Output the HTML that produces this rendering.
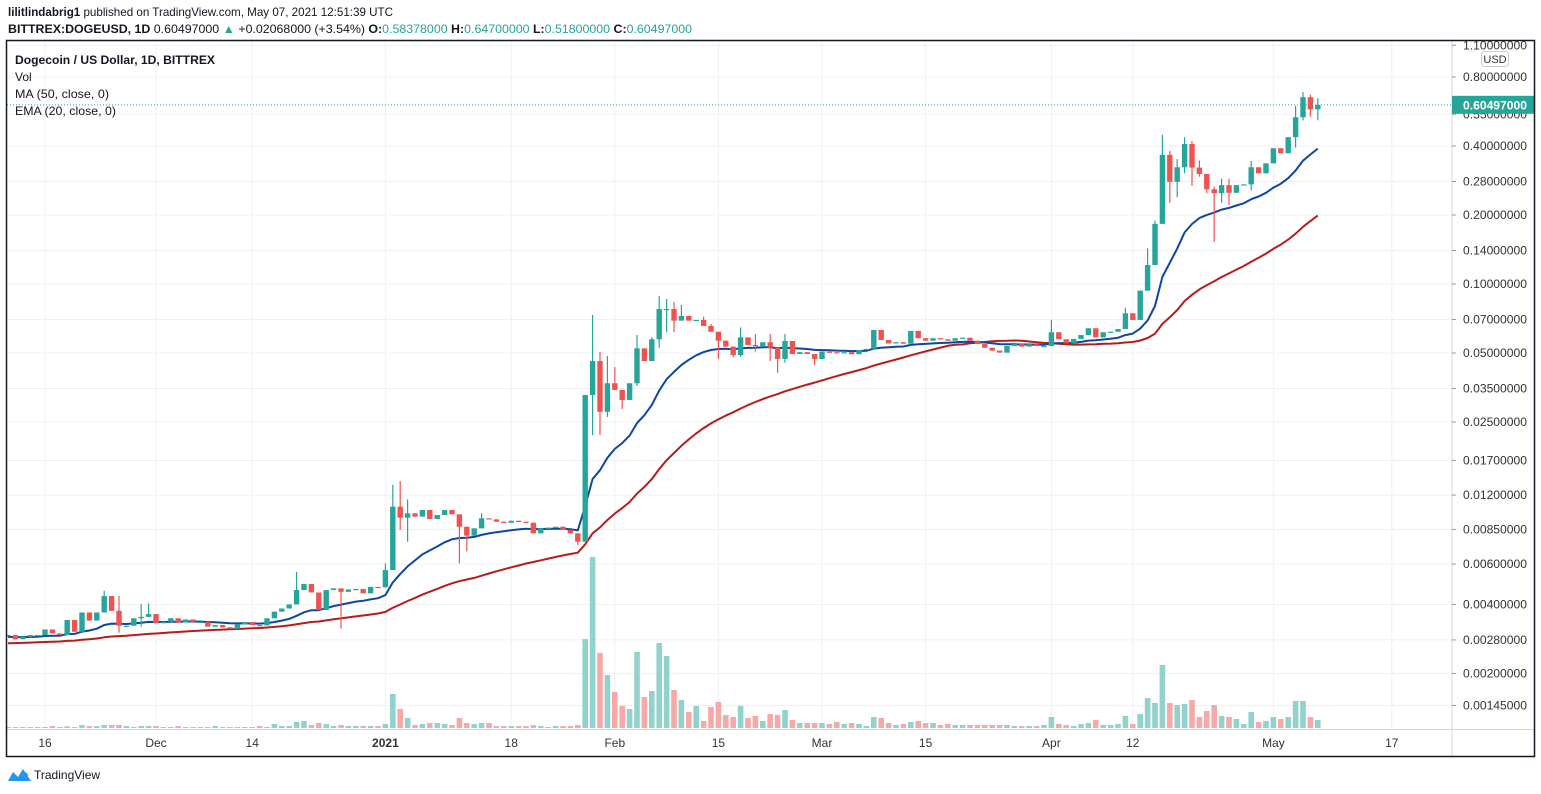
<!DOCTYPE html>
<html><head><meta charset="utf-8"><title>DOGEUSD chart</title>
<style>
html,body{margin:0;padding:0;background:#fff;width:1541px;height:794px;overflow:hidden}
svg{display:block;font-family:"Liberation Sans",sans-serif}
</style></head>
<body>
<svg id="chart" width="1541" height="794" viewBox="0 0 1541 794" xmlns="http://www.w3.org/2000/svg">
<defs><clipPath id="plotclip"><rect x="7" y="41" width="1445" height="688"/></clipPath></defs>
<rect x="0" y="0" width="1541" height="794" fill="#fff"/>
<text x="8" y="16" font-size="12" fill="#131722" textLength="385" lengthAdjust="spacingAndGlyphs"><tspan font-weight="bold">lilitlindabrig1</tspan> published on TradingView.com, May 07, 2021 12:51:39 UTC</text>
<text x="8" y="33" font-size="12" fill="#131722" textLength="684" lengthAdjust="spacingAndGlyphs"><tspan font-weight="bold">BITTREX:DOGEUSD, 1D</tspan> 0.60497000 <tspan fill="#26a69a">▲</tspan> +0.02068000 (+3.54%) <tspan font-weight="bold">O:</tspan><tspan fill="#26a69a">0.58378000</tspan> <tspan font-weight="bold">H:</tspan><tspan fill="#26a69a">0.64700000</tspan> <tspan font-weight="bold">L:</tspan><tspan fill="#26a69a">0.51800000</tspan> <tspan font-weight="bold">C:</tspan><tspan fill="#26a69a">0.60497000</tspan></text>
<g id="grid"></g>
<g id="vol" clip-path="url(#plotclip)"></g>
<g id="lines" clip-path="url(#plotclip)"></g>
<g id="candles" clip-path="url(#plotclip)"></g>
<g id="axes"></g>
<g font-size="12" fill="#131722">
<text x="15" y="64" font-weight="bold" textLength="200" lengthAdjust="spacingAndGlyphs">Dogecoin / US Dollar, 1D, BITTREX</text>
<text x="15" y="81">Vol</text>
<text x="15" y="98" textLength="94" lengthAdjust="spacingAndGlyphs">MA (50, close, 0)</text>
<text x="15" y="115" textLength="101" lengthAdjust="spacingAndGlyphs">EMA (20, close, 0)</text>
</g>
<rect x="6.5" y="40.5" width="1528" height="716" fill="none" stroke="#131722" stroke-width="1.5"/>
<g>
<path d="M8 781 L13 772 L18 777 L23 769 L31 781 Z" fill="#2196f3"/>
<circle cx="24" cy="776" r="4" fill="#2196f3"/>
<text x="34" y="779" font-size="12" fill="#131722">TradingView</text>
</g>
</svg>
<script>
// ---- data (day index d: 0 = Nov 16 2020; first candle d = -5) ----
const firstDay = -5;
const closes = [
.00294,.00282,.00289,.00294,.00294,.00311,.00299,.00294,.00342,.00304,
.00369,.00340,.00369,.00435,.00375,.00323,.00323,.00348,.00353,.00363,
.00331,.00336,.00348,.00334,.00344,.00336,.00336,.00320,.00325,.00318,
.00313,.00328,.00335,.00325,.00324,.00348,.00372,.00384,.00400,.00462,
.00491,.00451,.00378,.00462,.00470,.00454,.00465,.00467,.00447,.00477,
.00475,.00565,.01068,.00956,.00999,.00966,.01033,.00943,.00982,.01033,
.00989,.00873,.00798,.00859,.00950,.00940,.00918,.00909,.00927,.00918,
.00909,.00817,.00859,.00865,.00873,.00845,.00817,.00751,
.0328,.0461,.0277,.0369,.0345,.0312,.0369,.0524,.0461,.0574,
.0778,.0778,.0692,.0725,.0692,.0697,.0656,.0619,.0566,.0533,
.0490,.0585,.0542,.0536,.0557,.0527,.0471,.0564,.0495,.0504,
.0495,.0471,.0507,.0504,.0499,.0504,.0494,.0515,.0521,.0630,
.0570,.0551,.0557,.0549,.0624,.0580,.0566,.0580,.0574,.0566,
.0580,.0583,.0566,.0547,.0527,.0512,.0502,.0536,.0547,.0533,
.0546,.0536,.0536,.0616,.0574,.0551,.0576,.0599,.0641,.0585,
.0616,.0619,.0636,.0745,.0697,.0935,.121,.183,.366,.279,
.323,.408,.322,.302,.259,.249,.270,.250,.270,.272,
.323,.304,.336,.391,.372,.437,.534,.653,.578,.605];
const firstOpen = 0.00292;
const wickDays  = [8,10,13,14,34,40,46,47,48,49,56,57,59,72,74,75,76,77,78,80,82,83,84,85,86,89,90,91,93,94,96,98,99,100,104,136,146,149,150,151,152,153,154,155,156,157,158,159,160,163,169,170,171,172];
const wickHighs = [.00459,.00435,.00401,.00404,.00555,null,.00604,.0133,.0138,.0115,null,null,.0100,null,.0733,.0506,.0485,.0434,null,.0599,.0587,.0887,.0860,.0834,.0810,.0720,.0669,null,null,.0647,.0605,.0605,null,.0605,null,.0697,.0788,.143,.189,.448,.381,.351,.437,.421,.346,null,.266,.288,.288,.344,.599,.688,.670,.647];
const wickLows  = [null,.00301,.00320,null,null,.00314,null,null,.00845,.00751,.00604,.00682,null,.00727,.0219,.0219,.0263,null,.0285,.0359,null,.0526,.0617,.0617,null,null,null,.0471,.0479,.0482,.0507,.0461,.0410,.0453,.0443,null,null,null,null,null,.226,.239,.304,.268,.294,.249,.153,.226,.221,.256,.394,.517,.537,.518];
const volumes = [
1,1,1,1,1,1,2,1,1.7,1,
3,2,2,3,3,3,2,1,2,2,
2,1,1,2,1,1,1,1,2,1,
1,1,1,1,2,1,4,2,2,6,
7,3,5,4,2,3,2,2,2,2,
2,4,34,19,10,3,4,5,5,4,
3,10,5,4,5,5,2,2,2,2,
2,3,2,1,2,2,2,3,89,171,
75,53,36,22,19,76,31,37,85,72,
38,28,16,22,7,21,26,13,11,22,
10,12,7,14,13,18,8,5,5,5,
5,4,6,4,5,4,2,11,10,5,
3,4,6,7,5,5,3,4,3,3,
3,3,3,3,3,3,2,2,2,2,
3,11,4,3,2,4,5,8,3,3,
4,12,4,14,30,25,63,25,23,24,
28,11,17,23,12,11,9,4,16,6,
7,11,9,11,27,27,11,8];
const priorCloses = [
.00262,.00258,.00255,.00259,.00262,.00265,.00263,.00260,.00258,.00257,
.00259,.00262,.00266,.00265,.00263,.00262,.00264,.00266,.00268,.00265,
.00263,.00262,.00265,.00268,.00270,.00272,.00270,.00268,.00266,.00269,
.00272,.00275,.00278,.00276,.00273,.00271,.00274,.00277,.00280,.00283,
.00281,.00279,.00284,.00287,.00289,.00286,.00288,.00291,.00290];
const emaSeed = 0.00288;
const priceTicks = [1.1,0.8,0.55,0.4,0.28,0.2,0.14,0.1,0.07,0.05,0.035,0.025,0.017,0.012,0.0085,0.006,0.004,0.0028,0.002,0.00145];
const dateTickDays = [0,15,28,46,63,77,91,105,119,136,147,166,182];
const dateTickLabels = ["16","Dec","14","2021","18","Feb","15","Mar","15","Apr","12","May","17"];
const lastPrice = 0.60497;

// ---- scales ----
const NS = "http://www.w3.org/2000/svg";
const X = d => 45 + 7.4 * d;
const Y = p => 284 - 69 * Math.log2(p / 0.1);
const VY = v => 728 - v;
const UP = "#26a69a", DN = "#ef5350", UPV = "#92d2cc", DNV = "#f7a9a7";
function mk(tag, attrs, parent) {
  const el = document.createElementNS(NS, tag);
  for (const k in attrs) el.setAttribute(k, attrs[k]);
  parent.appendChild(el);
  return el;
}
const gGrid = document.getElementById("grid");
const gVol = document.getElementById("vol");
const gLines = document.getElementById("lines");
const gC = document.getElementById("candles");
const gAx = document.getElementById("axes");

// grid
priceTicks.forEach(p => {
  const l = mk("line", {x1: 7, x2: 1452, y1: Y(p), y2: Y(p), stroke: "#eef0f4", "stroke-width": 1}, gGrid);
  
  
});
dateTickDays.forEach(d => {
  if (X(d) > 1452) return;
  const l = mk("line", {x1: X(d), x2: X(d), y1: 41, y2: 729, stroke: "#eef0f4", "stroke-width": 1}, gGrid);
  
  
});

// candles + volume
const opens = closes.map((c, i) => i === 0 ? firstOpen : closes[i - 1]);
closes.forEach((c, i) => {
  const d = firstDay + i;
  const o = opens[i];
  const up = c >= o;
  const x = X(d);
  const wi = wickDays.indexOf(d);
  const hi = Math.max(o, c, wi >= 0 && wickHighs[wi] ? wickHighs[wi] : 0);
  const lo = Math.min(o, c, wi >= 0 && wickLows[wi] ? wickLows[wi] : 1e9);
  const v = mk("rect", {x: x - 2.8, y: VY(volumes[i]), width: 5.6, height: Math.max(1, volumes[i]), fill: up ? UPV : DNV}, gVol);
  
  
  const w = mk("line", {x1: x, x2: x, y1: Y(hi), y2: Y(lo), stroke: up ? UP : DN, "stroke-width": 1.2}, gC);
  
  
  const top = Y(Math.max(o, c)), bot = Y(Math.min(o, c));
  const b = mk("rect", {x: x - 2.7, y: top, width: 5.4, height: Math.max(1.2, bot - top), fill: up ? UP : DN}, gC);
  
  
});

// moving averages
const all = priorCloses.concat(closes);
let maPts = [], emaPts = [], ema = emaSeed;
const k = 2 / 21;
closes.forEach((c, i) => {
  const j = priorCloses.length + i;
  const win = all.slice(j - 49, j + 1);
  const ma = win.reduce((a, b) => a + b, 0) / win.length;
  ema = c * k + ema * (1 - k);
  const x = X(firstDay + i);
  maPts.push(x.toFixed(1) + "," + Y(ma).toFixed(1));
  emaPts.push(x.toFixed(1) + "," + Y(ema).toFixed(1));
});
const maLine = mk("polyline", {points: maPts.join(" "), fill: "none", stroke: "#b71c1c", "stroke-width": 2, "stroke-linejoin": "round"}, gLines);


const emaLine = mk("polyline", {points: emaPts.join(" "), fill: "none", stroke: "#0d47a1", "stroke-width": 2, "stroke-linejoin": "round"}, gLines);



// axes
const sep1 = mk("line", {x1: 1452, x2: 1452, y1: 41, y2: 756, stroke: "#d1d4dc", "stroke-width": 1}, gAx);


const sep2 = mk("line", {x1: 7, x2: 1534, y1: 729.5, y2: 729.5, stroke: "#d1d4dc", "stroke-width": 1}, gAx);


priceTicks.forEach(p => {
  const y = Y(p);
  const t = mk("line", {x1: 1452, x2: 1456, y1: y, y2: y, stroke: "#9598a1", "stroke-width": 1}, gAx);
  
  
  const tx = mk("text", {x: 1463, y: y + 4, "font-size": 12, fill: "#333", textLength: 64, lengthAdjust: "spacingAndGlyphs"}, gAx);
  tx.textContent = p.toFixed(8);
  
  
});
dateTickDays.forEach((d, i) => {
  const tx = mk("text", {x: X(d), y: 747, "font-size": 12, fill: "#333", "text-anchor": "middle"}, gAx);
  if (dateTickLabels[i] === "2021") tx.setAttribute("font-weight", "bold");
  tx.textContent = dateTickLabels[i];
  
  
});
// USD box
const ub = mk("rect", {x: 1481.5, y: 51.5, width: 27, height: 15, rx: 3, fill: "#fff", stroke: "#c8cbd2"}, gAx);


const ut = mk("text", {x: 1495, y: 63, "font-size": 11, fill: "#333", "text-anchor": "middle"}, gAx);
ut.textContent = "USD";


// last price line + tag
const ly = Y(lastPrice);
const pl = mk("line", {x1: 7, x2: 1452, y1: ly, y2: ly, stroke: UP, "stroke-width": 1, "stroke-dasharray": "1,2"}, gAx);


const tag = mk("rect", {x: 1452, y: ly - 9, width: 82, height: 18, fill: UP}, gAx);


const tagT = mk("text", {x: 1463, y: ly + 4.5, "font-size": 12, "font-weight": "bold", fill: "#fff", textLength: 64, lengthAdjust: "spacingAndGlyphs"}, gAx);
tagT.textContent = lastPrice.toFixed(8);


</script>
</body></html>
